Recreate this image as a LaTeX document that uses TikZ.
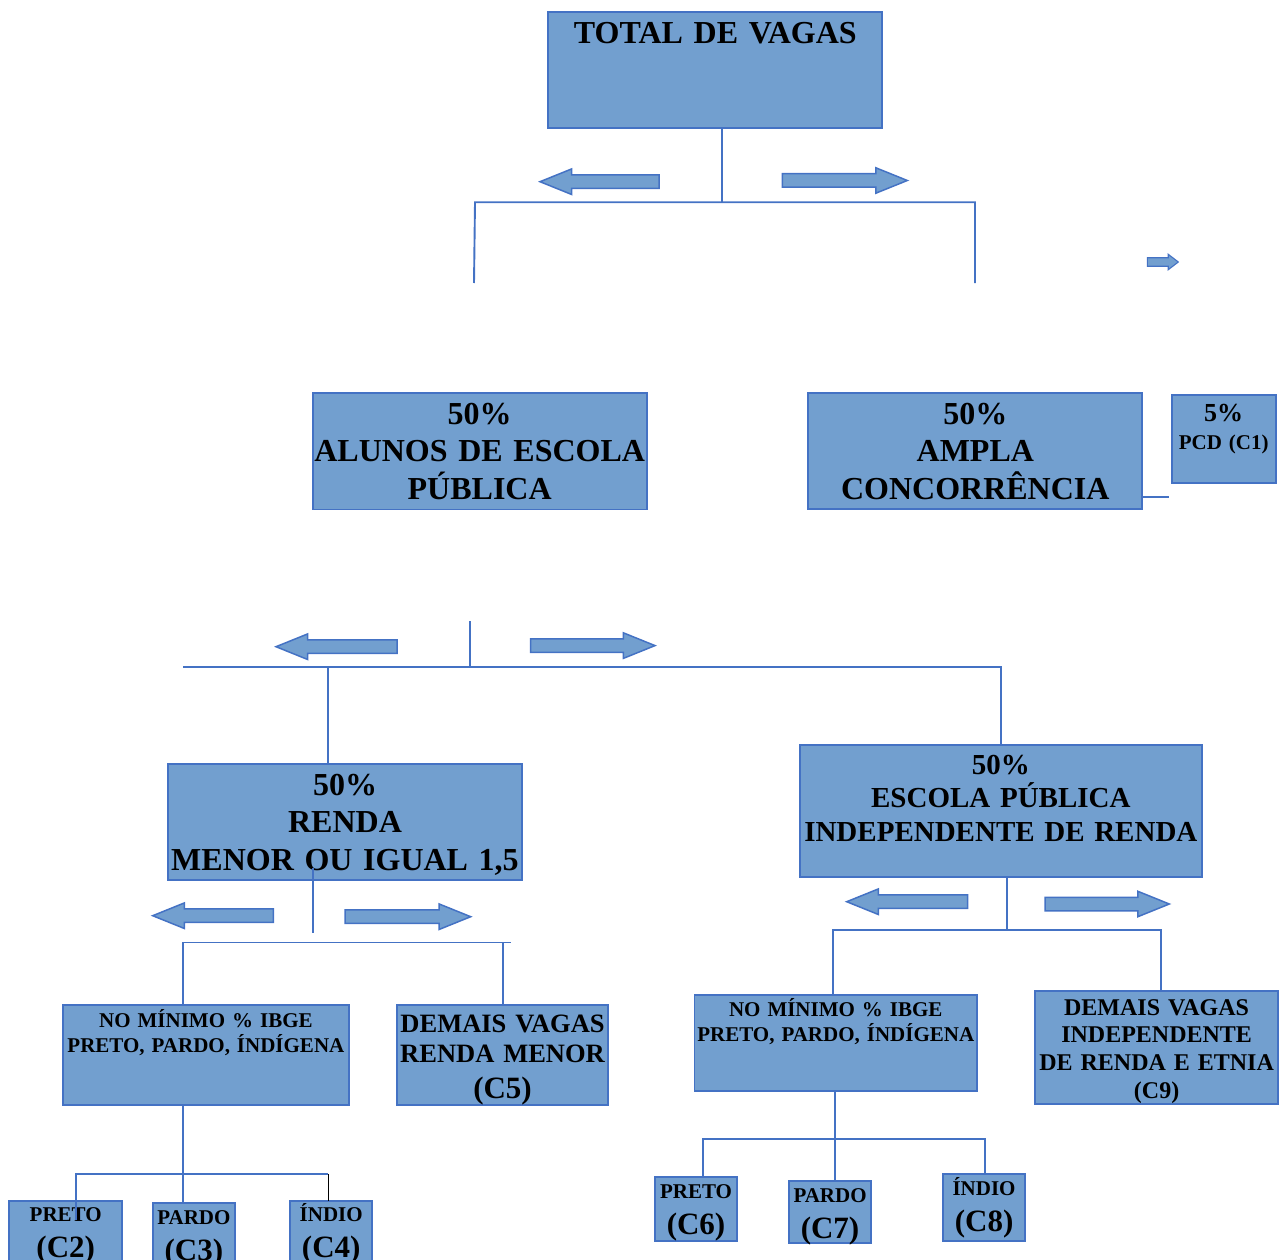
\documentclass[tikz,border=0pt]{standalone}
\usepackage{fontspec}
\setmainfont{Liberation Serif}
\usetikzlibrary{shapes.arrows, positioning}
\definecolor{VagaFill}{HTML}{729FCF}
\definecolor{VagaEdge}{HTML}{4472C4}

\begin{document}
\begin{tikzpicture}[
        x=1pt, y=1pt,
        node distance=30pt and 30pt,
        vaga/.style={rectangle, draw=VagaEdge, fill=VagaFill, line width=1.8pt, inner sep=0pt, outer sep=0pt, align=center},
        fgrande/.style={font=\bfseries\fontsize{32}{37.5}\selectfont},
        fmedia/.style={font=\bfseries\fontsize{29}{33.5}\selectfont},
        fibge/.style={font=\bfseries\fontsize{21}{25.5}\selectfont},
        fcota/.style={font=\bfseries\fontsize{21}{36}\selectfont},
        cota/.style={vaga, fcota, text height=21pt},
        link/.style={draw=VagaEdge, line width=1.9pt},
        seta/.style={single arrow, draw=VagaEdge, fill=VagaFill, line width=1.5pt, inner sep=0pt, outer sep=0pt, text height=6pt, text depth=6pt, minimum width=0pt, single arrow head extend=6pt, single arrow tip angle=44, anchor=tail},
        setaesq/.style={seta, shape border rotate=180}
    ]
        \useasboundingbox (0,0) rectangle (1287,-1260);

        % Caixas
        \node (total) [vaga, fgrande, text width=334pt, text height=32pt, text depth=84pt] at (715.3,-70) {TOTAL DE VAGAS};
        \node (alunos) [vaga, fgrande, text width=334pt, text height=31pt, text depth=85.5pt, below=265pt of total, xshift=-235.6pt] {50\%\\ALUNOS DE ESCOLA\\PÚBLICA};
        \node (ampla) [vaga, fgrande, text width=334pt, text height=31pt, text depth=85pt, right=161.6pt of alunos] {50\%\\AMPLA\\CONCORRÊNCIA};
        \node (pcd) [vaga, font=\bfseries\fontsize{21}{28}\selectfont, text width=104pt, text height=26pt, text depth=62pt, right=29.4pt of ampla, yshift=12pt] {{\fontsize{26}{28}\selectfont 5\%}\\PCD (C1)};

        \node (renda) [vaga, fgrande, text width=353.4pt, text height=31pt, text depth=85pt, below=254.5pt of alunos, xshift=-134.7pt] {50\%\\RENDA\\MENOR OU IGUAL 1,5};
        \node (escola) [vaga, fmedia, text width=401.7pt, text height=29pt, text depth=103pt, right=278.3pt of renda, yshift=11pt] {50\%\\ESCOLA PÚBLICA\\INDEPENDENTE DE RENDA};

        \node (ibgeA) [vaga, fibge, text width=286.3pt, text height=22pt, text depth=78pt, below=125pt of renda, xshift=-139.1pt] {NO MÍNIMO \% IBGE\\PRETO, PARDO, ÍNDÍGENA};
        \node (demaisA) [vaga, font=\bfseries\fontsize{26.5}{30}\selectfont, text width=211pt, text height=27pt, text depth=73pt, right=48pt of ibgeA] {DEMAIS VAGAS\\RENDA MENOR\\[6pt]{\fontsize{31}{30}\selectfont (C5)}};
        \node (ibgeB) [vaga, fibge, text width=282.7pt, text height=21pt, text depth=75pt, below=118pt of escola, xshift=-165.1pt] {NO MÍNIMO \% IBGE\\PRETO, PARDO, ÍNDÍGENA};
        \node (demaisB) [vaga, font=\bfseries\fontsize{24}{27.7}\selectfont, text width=243pt, text height=24pt, text depth=89pt, right=58pt of ibgeB, yshift=-4.5pt] {DEMAIS VAGAS\\INDEPENDENTE\\DE RENDA E ETNIA\\(C9)};

        \node (pardoC3) [cota, text width=82.3pt, text depth=58pt, below=98pt of ibgeA, xshift=-12pt] {PARDO\\{\fontsize{31}{36}\selectfont (C3)}};
        \node (pretoC2) [cota, text width=113.3pt, text depth=60pt, left=30.4pt of pardoC3, yshift=1.2pt] {PRETO\\{\fontsize{31}{36}\selectfont (C2)}};
        \node (indioC4) [cota, text width=82.3pt, text depth=60pt, right=55pt of pardoC3, yshift=1.2pt] {ÍNDIO\\{\fontsize{31}{36}\selectfont (C4)}};

        \node (pardoC7) [cota, text width=82pt, text depth=41pt, below=90pt of ibgeB, xshift=-5.7pt] {PARDO\\{\fontsize{31}{36}\selectfont (C7)}};
        \node (pretoC6) [cota, text width=82pt, text depth=43pt, left=52pt of pardoC7, yshift=3pt] {PRETO\\{\fontsize{31}{36}\selectfont (C6)}};
        \node (indioC8) [cota, text width=82pt, text depth=46pt, right=72pt of pardoC7, yshift=4.5pt] {ÍNDIO\\{\fontsize{31}{36}\selectfont (C8)}};

        % Setas
        \node (setaTl) [setaesq, minimum height=119pt] at (659,-181.7) {};
        \node (setaTr) [seta, minimum height=125pt] at (782.3,-180.5) {};
        \node (setaP) [seta, minimum height=31pt, text height=3.7pt, text depth=3.7pt, single arrow head extend=3.5pt, single arrow tip angle=75, line width=1.1pt] at (1147.3,-262) {};
        \node (setaBl) [setaesq, minimum height=121pt] at (397,-646.7) {};
        \node (setaBr) [seta, minimum height=124.5pt] at (530.5,-645.6) {};
        \node (setaCl) [setaesq, minimum height=120.6pt] at (273.3,-915.7) {};
        \node (setaCr) [seta, minimum height=125.7pt] at (345,-916.7) {};
        \node (setaDl) [setaesq, minimum height=121pt] at (967.7,-901.7) {};
        \node (setaDr) [seta, minimum height=124.3pt] at (1045,-904) {};

        % Pontos das linhas
        \coordinate (stemA) at (721.7,-202.3);
        \coordinate (busAl) at (475,-202.3);
        \coordinate (busAr) at (975,-202.3);
        \coordinate (legAl) at (474,-283);
        \coordinate (legAr) at (975,-283);
        \coordinate (pcdlink) at (1169,-497.3);
        \coordinate (stemB) at (470,-621);
        \coordinate (busBl) at (183,-667);
        \coordinate (dropB) at (328,-667);
        \coordinate (stemCtop) at (312.7,-868);
        \coordinate (stemC) at (312.7,-933);
        \coordinate (busCl) at (183,-942.5);
        \coordinate (busCr) at (510.7,-942.5);
        \coordinate (stemD) at (1007.3,-930);
        \coordinate (busDl) at (833.3,-930);
        \coordinate (busDr) at (1161,-930);
        \coordinate (stemE) at (182.7,-1174);
        \coordinate (busEl) at (76,-1174);
        \coordinate (busEr) at (328.3,-1174);
        \coordinate (legEl) at (76,-1220);
        \coordinate (stemF) at (835,-1139.3);
        \coordinate (busFl) at (702.7,-1139.3);
        \coordinate (busFr) at (985,-1139.3);

        % Linhas
        \draw [link] (total.south -| stemA) -- (stemA);
        \draw [link] (legAl) -- (busAl) -- (busAr) -- (legAr);
        \draw [link] (ampla.east |- pcdlink) -- (pcdlink);
        \draw [link] (stemB) -- (stemB |- busBl);
        \draw [link] (busBl) -| (escola.north);
        \draw [link] (dropB) -- (dropB |- renda.north);
        \draw [link] (stemCtop) -- (stemC);
        \draw [link] (ibgeA.north -| busCl) -- (busCl) -- (busCr);
        \draw [link] (demaisA.north |- busCl) -- (demaisA.north);
        \draw [link] (escola.south -| stemD) -- (stemD);
        \draw [link] (ibgeB.north -| busDl) -- (busDl) -- (busDr) -- (busDr |- demaisB.north);
        \draw [link] (ibgeA.south -| stemE) -- (stemE |- pardoC3.north);
        \draw [link] (legEl) -- (busEl) -- (busEr);
        \draw [link, draw=black, line width=1.4pt] (busEr) -- (busEr |- indioC4.north);
        \draw [link] (ibgeB.south -| stemF) -- (stemF |- pardoC7.north);
        \draw [link] (pretoC6.north -| busFl) -- (busFl) -- (busFr) -- (busFr |- indioC8.north);
    \end{tikzpicture}
\end{document}
